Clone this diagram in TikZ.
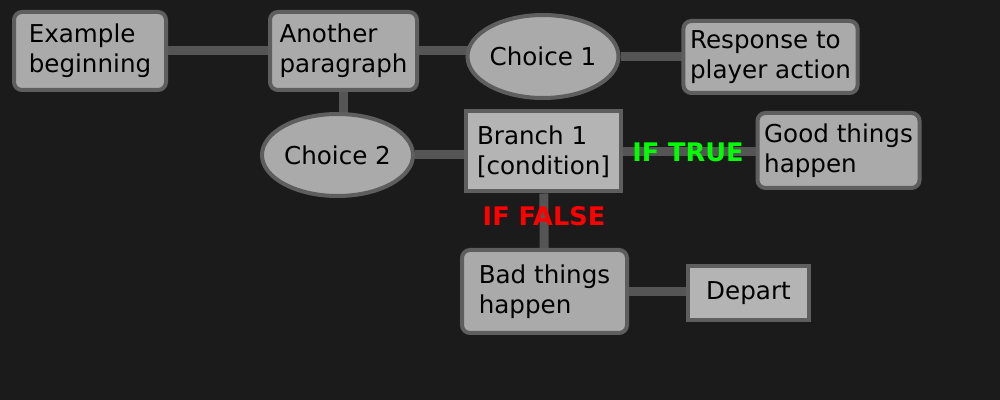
\documentclass[tikz,border=0pt]{standalone}
\usepackage{fontspec}
\setmainfont{DejaVu Sans}
\usepackage{tikz}
\usetikzlibrary{shapes,backgrounds,positioning}
\definecolor{backdark}{HTML}{1B1B1B}
\definecolor{boxfill}{HTML}{AAAAAA}
\definecolor{boxlight}{HTML}{B4B4B4}
\definecolor{boxedge}{HTML}{5E5E5E}
\definecolor{linkgray}{HTML}{555555}
\tikzset{
  every picture/.style = {
    x = 0.5pt,
    y = -0.5pt,
  }
  ,
  para/.style 2 args = {
    rectangle,
    rounded corners = 4pt,
    draw = boxedge,
    line width = 2pt,
    fill = boxfill,
    align = left,
    font = \fontsize{12.3}{15}\selectfont,
    minimum width = #1,
    minimum height = #2
  }
  , % plain boxes
  plain/.style 2 args = {
    para = {#1}{#2},
    rounded corners = 0pt,
    fill = boxlight
  }
  , % choices
  choice/.style 2 args = {
    ellipse,
    draw = boxedge,
    line width = 2pt,
    fill = boxfill,
    inner sep = 0pt,
    font = \fontsize{12.3}{15}\selectfont,
    minimum width = #1,
    minimum height = #2
  }
  , % connectors
  link/.style = {
    draw = linkgray,
    line width = 4.5pt
  }
  , % labels of connectors
  label-link/.style = {
    font = \fontsize{12.8}{15}\selectfont\bfseries
  }
}
\begin{document}
\begin{tikzpicture}
\useasboundingbox (0,0) rectangle (1000,400);
\node[para={76pt}{39pt}] at (90,51) (start) {Example\\beginning};
\node[para={73.5pt}{39pt}] at (343.5,51) (another) {Another\\paragraph};
\node[choice={72pt}{41.5pt}] at (543,56.5) (choiceone) {Choice 1};
\node[para={84.5pt}{36pt}] at (770.5,57) (response) {Response to\\player action};
\node[choice={72.5pt}{41pt}] at (337.5,155) (choicetwo) {Choice 2};
\node[plain={77.5pt}{40pt}] at (543.5,151.5) (branch) {Branch 1\\{[}condition{]}};
\node[para={77.5pt}{37.5pt}] at (838.5,150.5) (good) {Good things\\happen};
\node[para={82.5pt}{41.5pt}] at (544.5,291.5) (bad) {Bad things\\happen};
\node[plain={60.5pt}{27pt}] at (748.5,293) (depart) {Depart};
\begin{pgfonlayer}{background}
\fill[backdark] (0,0) rectangle (1000,400);
\path[link] (start) -- (another);
\path[link] (another) -- (another -| choiceone);
\path[link] (choiceone) -- (choiceone -| response);
\path[link] (another) -- (another |- choicetwo);
\path[link] (choicetwo) -- (choicetwo -| branch);
\path[link] (branch) -- (branch -| good);
\path[link] (branch) -- (bad);
\path[link] (bad) -- (bad -| depart);
\end{pgfonlayer}
\node[label-link, text = green] at (688,152) (iftrue) {IF TRUE};
\node[label-link, text = red] at (544,216) (iffalse) {IF FALSE};
\end{tikzpicture}
\end{document}
